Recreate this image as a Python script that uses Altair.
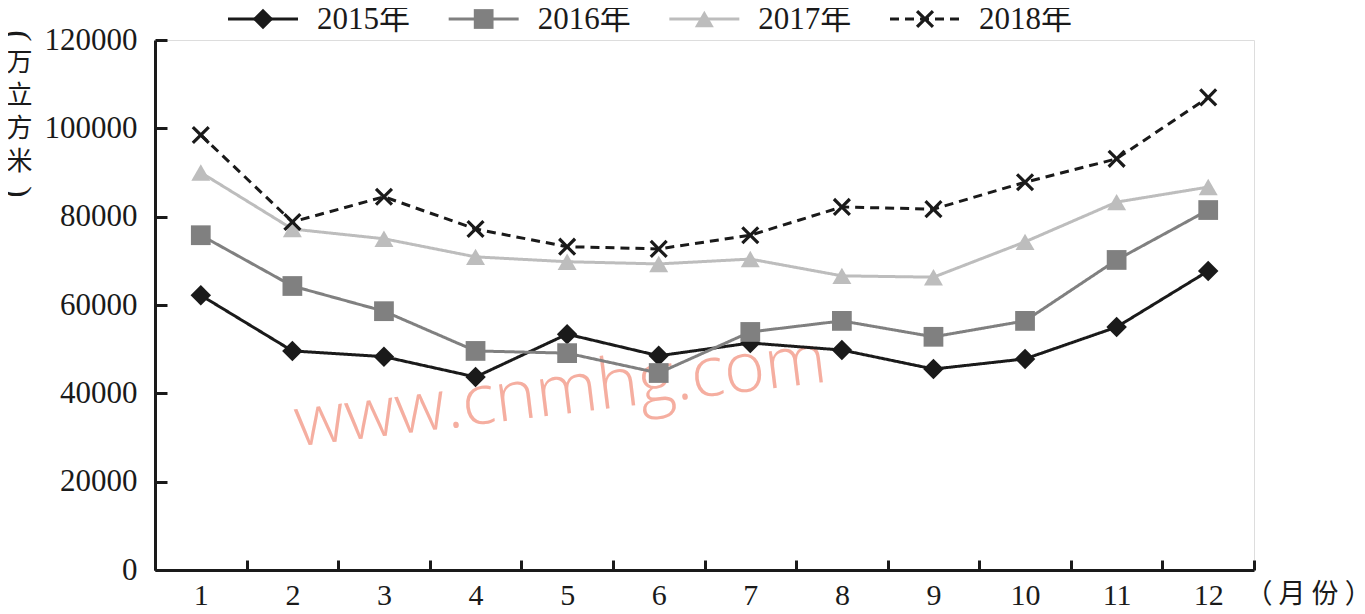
import altair as alt
import pandas as pd

months = [str(m) for m in range(1, 13)]
years = ["2015年", "2016年", "2017年", "2018年"]
v2015 = [62200, 49600, 48300, 43700, 53400, 48500, 51400, 49800, 45500, 47800, 55000, 67700]
v2016 = [75800, 64300, 58600, 49600, 49100, 44600, 53900, 56400, 52800, 56400, 70200, 81500]
v2017 = [90000, 77200, 75000, 70900, 69800, 69300, 70400, 66600, 66300, 74300, 83300, 86700]
v2018 = [98500, 78800, 84500, 77200, 73200, 72700, 75800, 82200, 81700, 87800, 93100, 107000]
y_ticks = [0, 20000, 40000, 60000, 80000, 100000, 120000]
colors = ["#1a1a1a", "#808080", "#bdbdbd", "#1a1a1a"]
x_path = ("M-1,-0.75L-0.75,-1L0,-0.25L0.75,-1L1,-0.75L0.25,0L1,0.75L0.75,1"
          "L0,0.25L-0.75,1L-1,0.75L-0.25,0Z")
shapes = ["diamond", "square", "triangle-up", x_path]
sizes = [420, 330, 470, 400]
line_widths = [3, 3, 3.2, 3.3]
dashes = [[1, 0], [1, 0], [1, 0], [9, 6]]
watermark = ["www.cnmhg.com"]
y_title = ["万", "立", "方", "米"]
y_parens = ["(", ")"]

rows = []
for yr, vals in zip(years, [v2015, v2016, v2017, v2018]):
    for m, v in zip(months, vals):
        rows.append({"month": m, "year": yr, "value": v})
df = pd.DataFrame(rows)
leg = pd.DataFrame({"year": years})

SERIF = "Liberation Serif, Noto Sans CJK SC"
CJK = "Noto Sans CJK SC"

x_scale = alt.Scale(domain=months, paddingInner=0, paddingOuter=0)
y_scale = alt.Scale(domain=[0, 120000], nice=False, zero=True)
color = alt.Color("year:N", scale=alt.Scale(domain=years, range=colors), legend=None)
dash = alt.StrokeDash("year:N", scale=alt.Scale(domain=years, range=dashes), legend=None)
shape = alt.Shape("year:N", scale=alt.Scale(domain=years, range=shapes), legend=None)
size = alt.Size("year:O", scale=alt.Scale(domain=years, range=sizes), legend=None)
lw = alt.StrokeWidth("year:O", scale=alt.Scale(domain=years, range=line_widths), legend=None)

x_main = alt.X("month:N", sort=months, scale=x_scale,
               axis=alt.Axis(orient="bottom", ticks=False, tickSize=0, domain=True,
                             domainColor="#1a1a1a", domainWidth=3, labelAngle=0,
                             labelFont=SERIF, labelFontSize=30, labelColor="#1a1a1a",
                             labelPadding=10, grid=False,
                             title="（ 月 份 ）", titleFont=CJK, titleFontSize=27,
                             titleFontWeight="normal", titleColor="#1a1a1a",
                             titleAngle=0, titleAlign="left", titleBaseline="middle",
                             titleX=1090, titleY=24))
y_main = alt.Y("value:Q", scale=y_scale,
               axis=alt.Axis(orient="left", ticks=False, tickSize=0, domain=True,
                             domainColor="#1a1a1a", domainWidth=3, values=y_ticks,
                             labelFont=SERIF, labelFontSize=31, labelColor="#1a1a1a",
                             labelPadding=18, grid=False, format="d",
                             title=y_title, titleFont=CJK,
                             titleFontSize=26, titleFontWeight="normal",
                             titleColor="#1a1a1a", titleAngle=0, titleAlign="center",
                             titleBaseline="top", titleLineHeight=33,
                             titleX=-136, titleY=9))

base = alt.Chart(df).encode(x=x_main, y=y_main, color=color)
lines = base.mark_line().encode(strokeDash=dash, strokeWidth=lw)
points = base.mark_point(filled=True, opacity=1, strokeWidth=0).encode(
    shape=shape, size=size)
main = alt.layer(lines, points)

ticks = alt.Chart(df).mark_point(opacity=0).encode(
    x=alt.X("month:N", sort=months, scale=x_scale,
            axis=alt.Axis(orient="bottom", offset=-10, domain=False, labels=False,
                          ticks=True, tickSize=10, tickWidth=3, tickColor="#1a1a1a",
                          tickBand="extent", title=None, grid=False)),
    y=alt.Y("value:Q", scale=y_scale,
            axis=alt.Axis(orient="left", offset=-12, domain=False, labels=False,
                          ticks=True, tickSize=12, tickWidth=3, tickColor="#1a1a1a",
                          values=y_ticks, title=None, grid=False)),
)

leg_x = alt.X("year:N", sort=years,
              scale=alt.Scale(domain=years, type="point", range=[108, 770], padding=0),
              axis=None)
leg_rule = alt.Chart(leg).mark_rule(xOffset=-35, x2Offset=35).encode(
    x=leg_x, x2="year:N", y=alt.value(-21), color=color, strokeDash=dash,
    strokeWidth=lw)
leg_pts = alt.Chart(leg).mark_point(filled=True, opacity=1, strokeWidth=0).encode(
    x=leg_x, y=alt.value(-21), shape=shape, size=size, color=color)
leg_txt = alt.Chart(leg).mark_text(align="left", baseline="middle", dx=54,
                                   font=SERIF, fontSize=31, color="#1a1a1a").encode(
    x=leg_x, y=alt.value(-20), text="year:N")
legend = alt.layer(leg_rule, leg_pts, leg_txt)

paren_top = alt.Chart(pd.DataFrame({"p": [y_parens[0]]})).mark_text(
    font="Liberation Serif", fontSize=34, color="#1a1a1a", angle=90,
    align="center", baseline="middle").encode(
    x=alt.value(-137), y=alt.value(-4), text="p:N")
paren_bot = alt.Chart(pd.DataFrame({"p": [y_parens[1]]})).mark_text(
    font="Liberation Serif", fontSize=34, color="#1a1a1a", angle=90,
    align="center", baseline="middle").encode(
    x=alt.value(-137), y=alt.value(152), text="p:N")

wm = alt.Chart(pd.DataFrame({"t": watermark})).mark_text(
    font="Open Sans", fontWeight=300, fontSize=70, color="#f4a090", opacity=0.85,
    align="center", baseline="alphabetic", angle=353).encode(
    x=alt.value(408), y=alt.value(374), text="t:N")

chart = alt.layer(wm, main, ticks, legend, paren_top, paren_bot).resolve_scale(
    x="independent", y="independent"
).properties(
    width=1099, height=530,
    padding={"left": 147, "top": 32, "right": 103, "bottom": 36},
    autosize=alt.AutoSizeParams(type="none"),
).configure_view(stroke=None).configure(background="white")

chart.save("out.html", embed_options={"renderer": "svg", "actions": False})
